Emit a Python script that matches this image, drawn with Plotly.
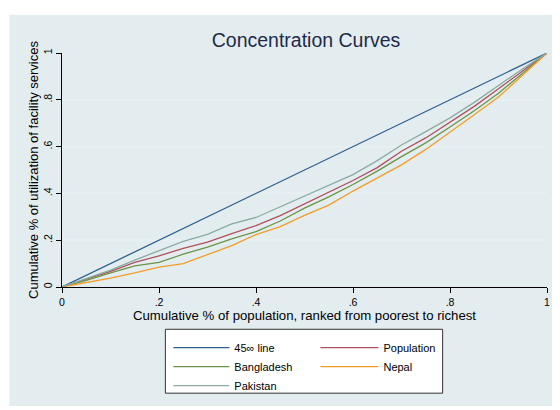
import plotly.graph_objects as go

# cumulative share of population (ranked poorest -> richest)
pop_share = [0, .05, .1, .15, .2, .25, .3, .35, .4, .45, .5, .55, .6, .65, .7, .75, .8, .85, .9, .95, 1]

line45 = [0, .05, .1, .15, .2, .25, .3, .35, .4, .45, .5, .55, .6, .65, .7, .75, .8, .85, .9, .95, 1]
population = [0, .034, .067, .105, .133, .165, .192, .228, .262, .305, .356, .405, .455, .51, .58, .637, .704, .772, .847, .925, 1]
bangladesh = [0, .028, .060, .090, .105, .140, .170, .206, .237, .282, .337, .385, .438, .495, .557, .616, .684, .753, .828, .912, 1]
nepal = [0, .018, .038, .060, .085, .100, .138, .177, .224, .258, .306, .350, .410, .465, .522, .588, .661, .736, .812, .906, 1]
pakistan = [0, .035, .072, .115, .155, .195, .225, .270, .297, .342, .387, .435, .480, .540, .607, .664, .723, .789, .860, .933, 1]

ytick_vals = [0, .2, .4, .6, .8, 1]
ytick_text = ["0", ".2", ".4", ".6", ".8", "1"]
xtick_vals = [0, .2, .4, .6, .8, 1]
xtick_text = ["0", ".2", ".4", ".6", ".8", "1"]

FONT = "Liberation Sans, Arial, sans-serif"

series = [
    ("45\u221e line", line45, "#2f5f8e", "legend"),
    ("Population", population, "#b0505d", "legend2"),
    ("Bangladesh", bangladesh, "#6b9446", "legend"),
    ("Nepal", nepal, "#f39c28", "legend2"),
    ("Pakistan", pakistan, "#8caba2", "legend"),
]

fig = go.Figure()
for name, ys, color, leg in series:
    fig.add_trace(go.Scatter(
        x=pop_share, y=ys, mode="lines", name=name,
        line=dict(color=color, width=1.3), legend=leg,
    ))

# figure is offset by the page's 8px body margin; coordinates below are figure px
W, H = 552, 402
L, R, T, B = 54, 10, 45, 119
pw, ph = W - L - R, H - T - B

def px_x(p):
    return (p - L) / pw

def px_y(p):
    return (H - B - p) / ph

shapes = [
    dict(type="rect", xref="paper", yref="paper",
         x0=px_x(1), x1=px_x(W + 2), y0=px_y(H + 2), y1=px_y(6),
         fillcolor="#e3edf0", line=dict(width=0), layer="below"),
    dict(type="rect", xref="paper", yref="paper",
         x0=px_x(158), x1=px_x(437), y0=px_y(391), y1=px_y(326),
         fillcolor="white", line=dict(color="#333333", width=1), layer="above"),
]

fig.update_layout(
    width=W, height=H,
    margin=dict(l=L, r=R, t=T, b=B),
    paper_bgcolor="white",
    plot_bgcolor="white",
    font=dict(family=FONT, color="black", size=10),
    title=dict(text="Concentration Curves", x=(L + pw / 2) / W, xanchor="center",
               y=1 - 32 / H, yanchor="middle",
               font=dict(family=FONT, size=19.5, color="#1e2a48")),
    shapes=shapes,
    legend=dict(x=px_x(161), y=px_y(330), xanchor="left", yanchor="top",
                bgcolor="rgba(0,0,0,0)", borderwidth=0,
                font=dict(family=FONT, size=11, color="black"),
                itemwidth=56, tracegroupgap=0),
    legend2=dict(x=px_x(309), y=px_y(330), xanchor="left", yanchor="top",
                 bgcolor="rgba(0,0,0,0)", borderwidth=0,
                 font=dict(family=FONT, size=11, color="black"),
                 itemwidth=58, tracegroupgap=0),
    xaxis=dict(range=[0, 1], tickvals=xtick_vals, ticktext=xtick_text,
               showgrid=False, zeroline=False, showline=True, linecolor="black",
               linewidth=1, ticks="outside", ticklen=5, tickcolor="black",
               tickfont=dict(size=10.5, color="black"),
               title=dict(text="Cumulative % of population, ranked from poorest to richest",
                          font=dict(size=13.2, color="black"), standoff=3)),
    yaxis=dict(range=[0, 1], tickvals=ytick_vals, ticktext=ytick_text,
               showgrid=True, gridcolor="#e6eff1", gridwidth=1.5,
               zeroline=False, showline=True, linecolor="black",
               linewidth=1, ticks="outside", ticklen=5, tickcolor="black",
               tickangle=-90, tickfont=dict(size=10.5, color="black"),
               ticklabelstandoff=0,
               title=dict(text="Cumulative % of utilization of facility services",
                          font=dict(size=13, color="black"), standoff=0)),
)

fig.write_html("out.html")
